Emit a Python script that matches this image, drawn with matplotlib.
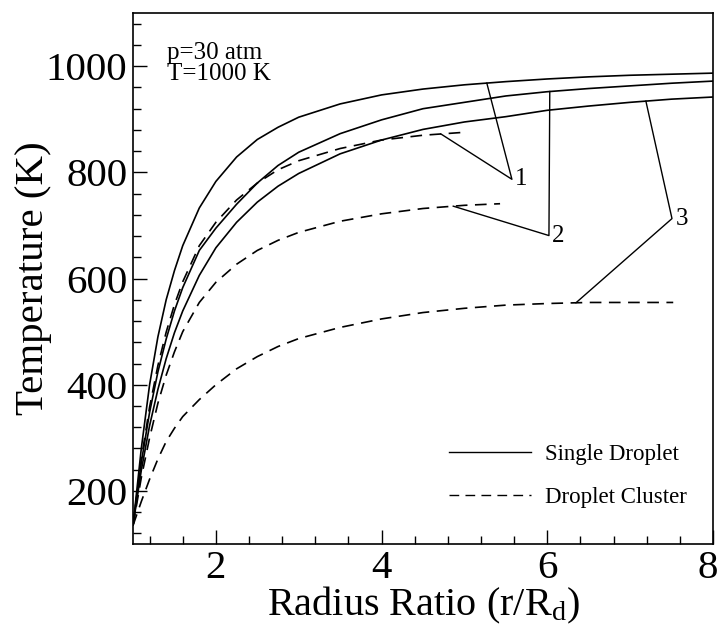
import numpy as np
import matplotlib
matplotlib.use("Agg")
import matplotlib.pyplot as plt
from matplotlib.ticker import MultipleLocator
from matplotlib.lines import Line2D
from matplotlib.transforms import ScaledTranslation

plt.rcParams['font.family'] = ['Liberation Serif', 'DejaVu Serif']
plt.rcParams['mathtext.fontset'] = 'custom'
plt.rcParams['mathtext.rm'] = 'Liberation Serif'
plt.rcParams['mathtext.it'] = 'Liberation Serif:italic'

# Radial positions (r/Rd) at which the temperature profiles are tabulated
r_grid = [1.0, 1.1, 1.2, 1.3, 1.4, 1.5, 1.6, 1.8, 2.0, 2.25, 2.5, 2.75,
          3.0, 3.5, 4.0, 4.5, 5.0, 5.5, 6.0, 6.5, 7.0, 7.5, 8.0]

# Single droplet profiles (K), cases 1-3
single_1 = [135, 280, 400, 490, 560, 615, 662, 733, 783, 829, 862, 885,
            904, 929, 946, 957, 965, 971, 976, 980, 983, 985, 987]
single_2 = [135, 254, 348, 424, 486, 539, 583, 653, 695, 740, 780, 813,
            838, 873, 899, 920, 932, 944, 952, 958, 963, 968, 972]
single_3 = [135, 239, 323, 391, 449, 498, 539, 606, 658, 706, 744, 774,
            798, 835, 861, 881, 895, 905, 917, 925, 932, 938, 942]

# Droplet cluster profiles (K), cases 1-3
r_cluster_1 = [1.0, 1.1, 1.2, 1.3, 1.4, 1.5, 1.6, 1.8, 2.0, 2.25, 2.5, 2.75,
               3.0, 3.5, 4.0, 4.5, 4.95]
cluster_1 = [135, 260, 358, 436, 499, 551, 594, 662, 706, 748, 780, 805,
             822, 845, 861, 870, 875]
r_cluster_2 = [1.0, 1.1, 1.2, 1.3, 1.4, 1.5, 1.6, 1.8, 2.0, 2.25, 2.5, 2.75,
               3.0, 3.5, 4.0, 4.5, 5.0, 5.43]
cluster_2 = [135, 225, 300, 365, 418, 462, 500, 555, 593, 627, 653, 672,
             687, 708, 722, 732, 738, 741]
r_cluster_3 = [1.0, 1.1, 1.2, 1.3, 1.4, 1.5, 1.6, 1.8, 2.0, 2.25, 2.5, 2.75,
               3.0, 3.5, 4.0, 4.5, 5.0, 5.5, 6.0, 6.5, 7.0, 7.52]
cluster_3 = [135, 180, 222, 260, 293, 318, 340, 372, 400, 430, 453, 472,
             487, 508, 524, 536, 544, 550, 553, 555, 555, 555]

# Case labels: label vertex, and radii where leaders meet the single / cluster curves
case_labels = ['1', '2', '3']
label_vertex = [(5.573, 787), (6.02, 681), (7.505, 713)]
leader_r_single = [5.27, 6.03, 7.19]
leader_r_cluster = [4.716, 4.865, 6.346]

fig = plt.figure(figsize=(7.21, 6.26), dpi=100)
ax = fig.add_axes([0.1845, 0.131, 0.8044, 0.848])

lw = 1.2
dash = (7.0, 4.5)
for T in (single_1, single_2, single_3):
    ax.plot(r_grid, T, color='black', lw=lw, solid_capstyle='butt')
for r, T in ((r_cluster_1, cluster_1), (r_cluster_2, cluster_2), (r_cluster_3, cluster_3)):
    ax.plot(r, T, color='black', lw=lw, linestyle=(0, dash))

singles = [single_1, single_2, single_3]
clusters = [(r_cluster_1, cluster_1), (r_cluster_2, cluster_2), (r_cluster_3, cluster_3)]
for i, lab in enumerate(case_labels):
    vx, vy = label_vertex[i]
    rs = leader_r_single[i]
    ts = np.interp(rs, r_grid, singles[i])
    rc = leader_r_cluster[i]
    tc = np.interp(rc, clusters[i][0], clusters[i][1])
    ax.plot([rs, vx, rc], [ts, vy, tc], color='black', lw=1.0)
    ax.text(vx + 0.04, vy, lab, fontsize=18, ha='left', va='center')

ax.text(0.058, 0.945, 'p=30 atm\nT=1000 K', transform=ax.transAxes,
        fontsize=18, ha='left', va='top', linespacing=0.95)

ax.set_xlim(1, 8)
ax.set_ylim(100, 1100)
ax.xaxis.set_major_locator(MultipleLocator(2))
ax.xaxis.set_minor_locator(MultipleLocator(0.4))
ax.yaxis.set_major_locator(MultipleLocator(200))
ax.yaxis.set_minor_locator(MultipleLocator(40))
ax.tick_params(which='both', direction='in', top=False, right=False, width=1.0)
ax.tick_params(which='major', length=10, labelsize=29.5)
ax.tick_params(which='minor', length=5.5)
ax.tick_params(axis='x', pad=4)
ax.tick_params(axis='y', pad=4)
for s in ax.spines.values():
    s.set_linewidth(1.2)

ax.set_xlabel(r'Radius Ratio (r/R$_{\rm d}$)', fontsize=29)
ax.xaxis.set_label_coords(0.5, -0.077)
ax.set_ylabel('Temperature (K)', fontsize=29.5)
ax.yaxis.set_label_coords(-0.139, 0.5)

handles = [Line2D([], [], color='black', lw=1.0),
           Line2D([], [], color='black', lw=1.0, linestyle=(0, dash))]
ax.legend(handles, ['Single Droplet', 'Droplet Cluster'], loc='lower right',
          bbox_to_anchor=(0.955, 0.068), frameon=False, fontsize=16.5,
          handlelength=3.6, handletextpad=0.6, labelspacing=0.95,
          borderaxespad=0, borderpad=0)

# keep the last x tick label inside the canvas
fig.canvas.draw()
last_tick = ax.xaxis.get_major_ticks()
for t in last_tick:
    if abs(t.get_loc() - 8) < 1e-9:
        t.label1.set_transform(t.label1.get_transform()
                               + ScaledTranslation(-5 / 100, 0, fig.dpi_scale_trans))

fig.savefig('out.png', dpi=100)
